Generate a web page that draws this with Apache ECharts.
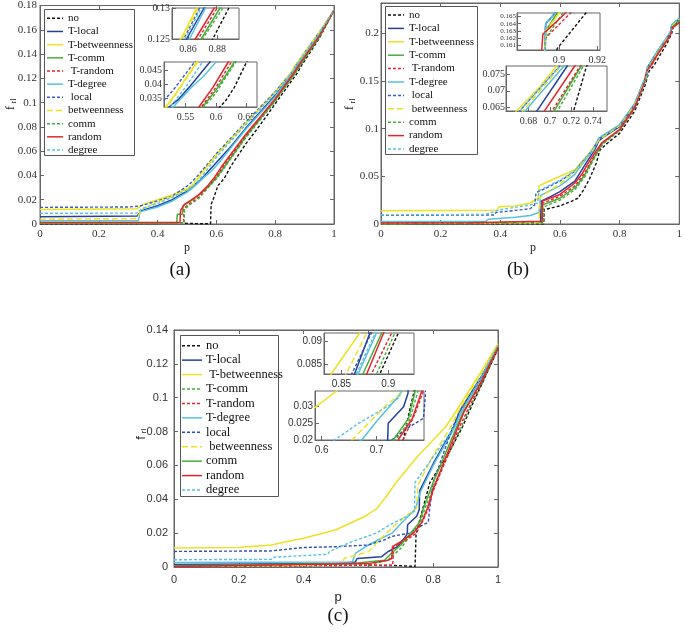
<!DOCTYPE html>
<html><head><meta charset="utf-8">
<script src="https://cdn.jsdelivr.net/npm/echarts@6/dist/echarts.min.js"></script>
<style>html,body{margin:0;padding:0;background:#fff}#c{width:685px;height:638px}</style>
</head><body><div id="c"></div>
<script>
// ---------- series names ----------
const NAMES = ['no','T-local','T-betweenness','T-comm','T-random','T-degree','local','betweenness','comm','random','degree'];
const LEGEND_A = ['no','T-local','T-betweenness','T-comm',' T-random','T-degree',' local','betweenness','comm','random','degree'];
const LEGEND_B = ['no','T-local','T-betweenness','T-comm',' T-random','T-degree',' local',' betweenness','comm','random','degree'];
const LEGEND_C = ['no','T-local',' T-betweenness','T-comm','T-random','T-degree','local',' betweenness','comm','random','degree'];

// ---------- panel (a) data [p, f_rl] ----------
const A_no = [[0,0],[0.2,0],[0.4,0.0004],[0.45,0.001],[0.5,0.0005],[0.55,0.0002],[0.58,0.0002],[0.582,0.016],[0.59,0.021],[0.6,0.028],[0.606,0.032],[0.615,0.034],[0.63,0.039],[0.65,0.048],[0.7,0.066],[0.75,0.082],[0.8,0.099],[0.85,0.116],[0.877,0.125],[0.888,0.13],[0.95,0.153],[1,0.176]];
const A_tlocal = [[0,0.006],[0.33,0.0065],[0.345,0.011],[0.4,0.015],[0.45,0.02],[0.5,0.027],[0.523,0.032],[0.54,0.035],[0.56,0.04],[0.575,0.044],[0.59,0.048],[0.65,0.064],[0.7,0.079],[0.8,0.106],[0.859,0.125],[0.871,0.13],[0.95,0.157],[1,0.176]];
const A_tbetw = [[0,0.012],[0.33,0.0125],[0.35,0.016],[0.4,0.02],[0.45,0.024],[0.5,0.029],[0.518,0.032],[0.535,0.037],[0.55,0.042],[0.569,0.048],[0.6,0.057],[0.7,0.083],[0.8,0.109],[0.855,0.125],[0.866,0.13],[0.95,0.158],[1,0.176]];
const A_tcomm = [[0,0.0008],[0.465,0.0008],[0.467,0.008],[0.484,0.008],[0.487,0.015],[0.5,0.017],[0.53,0.022],[0.555,0.027],[0.578,0.032],[0.6,0.038],[0.63,0.048],[0.7,0.072],[0.8,0.102],[0.869,0.125],[0.882,0.13],[0.95,0.154],[1,0.176]];
const A_trandom = [[0,0.0005],[0.488,0.0005],[0.49,0.013],[0.51,0.017],[0.54,0.022],[0.576,0.032],[0.6,0.039],[0.625,0.048],[0.7,0.073],[0.8,0.103],[0.867,0.125],[0.88,0.13],[0.95,0.155],[1,0.176]];
const A_tdegree = [[0,0.0027],[0.335,0.0027],[0.34,0.01],[0.4,0.014],[0.45,0.019],[0.5,0.026],[0.53,0.032],[0.56,0.039],[0.58,0.043],[0.6,0.048],[0.65,0.063],[0.7,0.078],[0.8,0.105],[0.861,0.125],[0.872,0.13],[0.95,0.157],[1,0.176]];
const A_local = [[0,0.0137],[0.3,0.014],[0.34,0.0148],[0.4,0.019],[0.45,0.023],[0.505,0.032],[0.53,0.038],[0.565,0.048],[0.6,0.058],[0.7,0.084],[0.8,0.109],[0.857,0.125],[0.868,0.13],[0.95,0.158],[1,0.176]];
const A_betw = [[0,0.004],[0.33,0.0045],[0.345,0.012],[0.4,0.018],[0.45,0.023],[0.5,0.028],[0.52,0.032],[0.545,0.04],[0.57,0.048],[0.6,0.057],[0.7,0.083],[0.8,0.108],[0.856,0.125],[0.867,0.13],[0.95,0.158],[1,0.176]];
const A_comm = [[0,0.0003],[0.49,0.0003],[0.492,0.012],[0.51,0.016],[0.54,0.021],[0.58,0.032],[0.6,0.037],[0.632,0.048],[0.7,0.071],[0.8,0.101],[0.87,0.125],[0.884,0.13],[0.95,0.154],[1,0.176]];
const A_random = [[0,0.0012],[0.476,0.0012],[0.478,0.011],[0.49,0.016],[0.51,0.019],[0.54,0.024],[0.572,0.032],[0.595,0.039],[0.62,0.048],[0.7,0.074],[0.8,0.103],[0.865,0.125],[0.878,0.13],[0.95,0.155],[1,0.176]];
const A_degree = [[0,0.0088],[0.33,0.009],[0.345,0.0125],[0.4,0.017],[0.45,0.022],[0.5,0.028],[0.525,0.032],[0.55,0.039],[0.578,0.048],[0.6,0.055],[0.7,0.082],[0.8,0.108],[0.858,0.125],[0.869,0.13],[0.95,0.157],[1,0.176]];

// ---------- panel (b) data ----------
const B_no = [[0,0],[0.3,0],[0.546,0],[0.547,0.015],[0.6,0.019],[0.64,0.024],[0.66,0.027],[0.68,0.036],[0.7,0.048],[0.722,0.064],[0.734,0.0775],[0.76,0.085],[0.8,0.095],[0.85,0.118],[0.885,0.145],[0.899,0.1605],[0.914,0.1655],[0.96,0.19],[0.975,0.2],[0.98,0.207],[1,0.212]];
const B_tlocal = [[0,0.001],[0.4,0.0015],[0.535,0.002],[0.537,0.024],[0.57,0.029],[0.6,0.034],[0.65,0.045],[0.688,0.064],[0.716,0.0775],[0.73,0.087],[0.75,0.092],[0.8,0.102],[0.85,0.125],[0.88,0.148],[0.892,0.156],[0.893,0.164],[0.898,0.1655],[0.93,0.182],[0.97,0.2],[0.975,0.208],[1,0.215]];
const B_tbetw = [[0,0.014],[0.39,0.0145],[0.395,0.018],[0.45,0.019],[0.5,0.022],[0.527,0.027],[0.53,0.04],[0.55,0.043],[0.6,0.05],[0.65,0.057],[0.669,0.064],[0.69,0.071],[0.706,0.0775],[0.73,0.089],[0.8,0.104],[0.85,0.126],[0.88,0.149],[0.892,0.156],[0.893,0.163],[0.9,0.1655],[0.93,0.182],[0.97,0.2],[0.975,0.208],[1,0.215]];
const B_tcomm = [[0,0.0003],[0.3,0.0005],[0.54,0.002],[0.542,0.02],[0.6,0.027],[0.65,0.038],[0.68,0.05],[0.704,0.064],[0.729,0.0775],[0.74,0.084],[0.8,0.099],[0.85,0.122],[0.88,0.146],[0.892,0.155],[0.893,0.163],[0.899,0.1655],[0.93,0.181],[0.97,0.199],[0.975,0.207],[1,0.214]];
const B_trandom = [[0,0.0005],[0.54,0.001],[0.542,0.022],[0.6,0.029],[0.65,0.04],[0.68,0.052],[0.702,0.064],[0.728,0.0775],[0.74,0.084],[0.8,0.098],[0.85,0.121],[0.88,0.145],[0.892,0.155],[0.893,0.162],[0.906,0.1655],[0.93,0.179],[0.97,0.198],[0.975,0.206],[1,0.212]];
const B_tdegree = [[0,0.0025],[0.35,0.0025],[0.36,0.005],[0.45,0.007],[0.5,0.009],[0.53,0.012],[0.535,0.03],[0.6,0.04],[0.65,0.052],[0.677,0.064],[0.713,0.0775],[0.73,0.09],[0.8,0.104],[0.85,0.126],[0.88,0.149],[0.892,0.156],[0.893,0.164],[0.898,0.1655],[0.93,0.183],[0.97,0.201],[0.975,0.209],[1,0.216]];
const B_local = [[0,0.009],[0.38,0.0095],[0.385,0.012],[0.5,0.016],[0.515,0.02],[0.52,0.033],[0.55,0.037],[0.6,0.045],[0.65,0.055],[0.672,0.064],[0.709,0.0775],[0.73,0.089],[0.8,0.103],[0.85,0.125],[0.88,0.148],[0.892,0.156],[0.893,0.164],[0.898,0.1655],[0.93,0.182],[0.97,0.2],[0.975,0.208],[1,0.215]];
const B_betw = [[0,0.0005],[0.4,0.001],[0.53,0.002],[0.533,0.028],[0.6,0.042],[0.65,0.055],[0.675,0.064],[0.71,0.0775],[0.73,0.088],[0.8,0.103],[0.85,0.125],[0.88,0.148],[0.892,0.156],[0.893,0.163],[0.9,0.1655],[0.93,0.182],[0.97,0.2],[0.975,0.208],[1,0.215]];
const B_comm = [[0,0],[0.545,0.0005],[0.546,0.018],[0.6,0.025],[0.65,0.036],[0.685,0.05],[0.707,0.064],[0.731,0.0775],[0.745,0.084],[0.8,0.098],[0.85,0.121],[0.88,0.145],[0.892,0.154],[0.893,0.162],[0.902,0.1655],[0.93,0.18],[0.97,0.198],[0.975,0.206],[1,0.213]];
const B_random = [[0,0.001],[0.3,0.0012],[0.54,0.003],[0.541,0.024],[0.6,0.031],[0.65,0.043],[0.675,0.053],[0.695,0.064],[0.723,0.0775],[0.74,0.085],[0.8,0.099],[0.85,0.122],[0.88,0.146],[0.891,0.1605],[0.8915,0.1625],[0.9034,0.1655],[0.93,0.179],[0.97,0.198],[0.975,0.205],[1,0.211]];
const B_degree = [[0,0.0095],[0.35,0.01],[0.4,0.015],[0.5,0.02],[0.525,0.022],[0.53,0.035],[0.6,0.046],[0.65,0.056],[0.672,0.064],[0.709,0.0775],[0.73,0.09],[0.8,0.104],[0.85,0.126],[0.88,0.149],[0.892,0.156],[0.893,0.164],[0.898,0.1655],[0.93,0.183],[0.97,0.201],[0.975,0.209],[1,0.216]];

// ---------- panel (c) data ----------
const C_no = [[0,0.0005],[0.3,0.0008],[0.5,0.001],[0.6,0.001],[0.7,0.0008],[0.744,0.0003],[0.747,0.019],[0.76,0.029],[0.79,0.05],[0.85,0.068],[0.891,0.083],[0.9107,0.0917],[0.95,0.108],[1,0.129]];
const C_tlocal = [[0,0.0015],[0.5,0.002],[0.56,0.003],[0.565,0.005],[0.64,0.006],[0.66,0.009],[0.69,0.012],[0.715,0.018],[0.72,0.02],[0.721,0.025],[0.749,0.03],[0.757,0.034],[0.758,0.045],[0.8,0.061],[0.864,0.083],[0.8804,0.0917],[0.95,0.113],[1,0.13]];
const C_tbetw = [[0,0.0112],[0.2,0.0115],[0.3,0.013],[0.35,0.015],[0.4,0.017],[0.5,0.022],[0.59,0.03],[0.627,0.0347],[0.66,0.043],[0.69,0.051],[0.75,0.065],[0.8,0.075],[0.839,0.083],[0.8696,0.0917],[0.95,0.116],[1,0.132]];
const C_tcomm = [[0,0.0005],[0.6,0.001],[0.66,0.004],[0.7,0.011],[0.735,0.02],[0.76,0.026],[0.775,0.0347],[0.8,0.047],[0.8875,0.083],[0.907,0.0917],[0.95,0.108],[1,0.129]];
const C_trandom = [[0,0.0004],[0.6,0.001],[0.675,0.001],[0.678,0.012],[0.71,0.015],[0.748,0.02],[0.77,0.028],[0.785,0.0347],[0.8,0.045],[0.882,0.083],[0.9036,0.0917],[0.95,0.109],[1,0.129]];
const C_tdegree = [[0,0.0027],[0.55,0.003],[0.56,0.008],[0.6,0.013],[0.64,0.017],[0.673,0.02],[0.7,0.0256],[0.737,0.0326],[0.746,0.0347],[0.76,0.044],[0.8,0.06],[0.8678,0.083],[0.8875,0.0917],[0.95,0.112],[1,0.131]];
const C_local = [[0,0.0092],[0.3,0.0095],[0.35,0.0105],[0.4,0.0115],[0.5,0.012],[0.6,0.013],[0.65,0.016],[0.67,0.018],[0.727,0.02],[0.76,0.024],[0.785,0.0265],[0.79,0.036],[0.8,0.05],[0.861,0.083],[0.882,0.0917],[0.95,0.112],[1,0.13]];
const C_betw = [[0,0.0005],[0.4,0.001],[0.52,0.002],[0.525,0.005],[0.6,0.009],[0.625,0.014],[0.655,0.02],[0.688,0.0255],[0.718,0.0305],[0.749,0.0347],[0.752,0.048],[0.8,0.066],[0.855,0.083],[0.877,0.0917],[0.95,0.115],[1,0.131]];
const C_comm = [[0,0.0008],[0.55,0.002],[0.65,0.004],[0.67,0.008],[0.7,0.013],[0.73,0.02],[0.758,0.0265],[0.77,0.0347],[0.8,0.05],[0.873,0.083],[0.893,0.0917],[0.95,0.11],[1,0.13]];
const C_random = [[0,0.0003],[0.6,0.002],[0.66,0.004],[0.672,0.005],[0.674,0.012],[0.7,0.015],[0.739,0.02],[0.765,0.0265],[0.782,0.0347],[0.8,0.046],[0.877,0.083],[0.895,0.0917],[0.95,0.11],[1,0.13]];
const C_degree = [[0,0.0043],[0.3,0.0045],[0.31,0.0058],[0.475,0.0075],[0.48,0.0092],[0.55,0.015],[0.624,0.02],[0.667,0.025],[0.724,0.0305],[0.742,0.033],[0.744,0.05],[0.8,0.065],[0.866,0.083],[0.886,0.0917],[0.95,0.113],[1,0.131]];

// ---------- tick values ----------
const X_MAIN_TICKS = [0,0.2,0.4,0.6,0.8,1];
const A_Y_TICKS = [0,0.02,0.04,0.06,0.08,0.1,0.12,0.14,0.16,0.18];
const B_Y_TICKS = [0,0.05,0.1,0.15,0.2];
const C_Y_TICKS = [0,0.02,0.04,0.06,0.08,0.1,0.12,0.14];
const A_I1_X = [0.86,0.88], A_I1_Y = [0.125,0.13];
const A_I2_X = [0.55,0.6,0.65], A_I2_Y = [0.035,0.04,0.045];
const B_I1_X = [0.9,0.92], B_I1_Y = [0.161,0.162,0.163,0.164,0.165];
const B_I2_X = [0.68,0.7,0.72,0.74], B_I2_Y = [0.065,0.07,0.075];
const C_I1_X = [0.85,0.9], C_I1_Y = [0.085,0.09];
const C_I2_X = [0.6,0.7], C_I2_Y = [0.02,0.025,0.03];

// ---------- styles ----------
const SERIF = "Liberation Serif, Times New Roman, serif";
const SANS = "Arial, Liberation Sans, Helvetica, sans-serif";
const COL = {k:'#111111', b:'#23409e', y:'#eee21e', g:'#46ad3b', r:'#e3252b', c:'#57c1e4'};
const DASH = [3,2], LDASH = [6,3];
const STYLE_AB = {
  'no':{c:COL.k,d:DASH}, 'T-local':{c:COL.b,d:null}, 'T-betweenness':{c:COL.y,d:null}, 'T-comm':{c:COL.g,d:null},
  'T-random':{c:COL.r,d:DASH}, 'T-degree':{c:COL.c,d:null}, 'local':{c:'#3a5cc0',d:DASH}, 'betweenness':{c:COL.y,d:LDASH},
  'comm':{c:COL.g,d:DASH}, 'random':{c:COL.r,d:null}, 'degree':{c:COL.c,d:DASH}
};
const STYLE_C = {
  'no':{c:COL.k,d:DASH}, 'T-local':{c:COL.b,d:null}, 'T-betweenness':{c:COL.y,d:null}, 'T-comm':{c:COL.g,d:DASH},
  'T-random':{c:COL.r,d:DASH}, 'T-degree':{c:COL.c,d:null}, 'local':{c:'#2f4fb0',d:DASH}, 'betweenness':{c:COL.y,d:LDASH},
  'comm':{c:COL.g,d:null}, 'random':{c:COL.r,d:null}, 'degree':{c:COL.c,d:DASH}
};

const PANELS = [
  { data:[A_no,A_tlocal,A_tbetw,A_tcomm,A_trandom,A_tdegree,A_local,A_betw,A_comm,A_random,A_degree], style:STYLE_AB, font:SERIF, fs:11,
    main:{l:40,t:5,w:294,h:219,xr:[0,1],yr:[0,0.18],xt:X_MAIN_TICKS,yt:A_Y_TICKS,xm:5,ym:3},
    insets:[{l:172,t:8,w:67,h:31,xr:[0.849,0.895],yr:[0.125,0.13],xt:A_I1_X,yt:A_I1_Y,xm:5,ym:2,fs:10},
            {l:164,t:62,w:93,h:45,xr:[0.515,0.667],yr:[0.032,0.048],xt:A_I2_X,yt:A_I2_Y,xm:5,ym:2,fs:10}],
    legend:{x:44,y:9,w:90,h:146,lx0:47,lx1:63,tx:68,fy:18.3,step:13.17,fs:11,labels:LEGEND_A,font:SERIF},
    ylab:{x:11,y:108,font:SERIF}, xlab:{x:187,y:248,font:SERIF,fs:12}, cap:{t:'(a)',x:180,y:270} },
  { data:[B_no,B_tlocal,B_tbetw,B_tcomm,B_trandom,B_tdegree,B_local,B_betw,B_comm,B_random,B_degree], style:STYLE_AB, font:SERIF, fs:11,
    main:{l:381,t:3,w:299,h:221,xr:[0,1],yr:[0,0.2317],xt:X_MAIN_TICKS,yt:B_Y_TICKS,xm:5,ym:2},
    insets:[{l:517,t:13,w:83,h:37,xr:[0.878,0.9214],yr:[0.1603,0.1655],xt:B_I1_X,yt:B_I1_Y,xm:5,ym:1,fs:10,yfs:7},
            {l:506,t:66,w:101,h:45,xr:[0.659,0.753],yr:[0.0639,0.0775],xt:B_I2_X,yt:B_I2_Y,xm:5,ym:1,fs:10}],
    legend:{x:385,y:6,w:92,h:148,lx0:388,lx1:404,tx:409,fy:15,step:13.4,fs:11,labels:LEGEND_B,font:SERIF},
    ylab:{x:350,y:108,font:SERIF}, xlab:{x:533,y:248,font:SERIF,fs:12}, cap:{t:'(b)',x:518,y:270} },
  { data:[C_no,C_tlocal,C_tbetw,C_tcomm,C_trandom,C_tdegree,C_local,C_betw,C_comm,C_random,C_degree], style:STYLE_C, font:SANS, fs:11,
    main:{l:174,t:330,w:324,h:237,xr:[0,1],yr:[0,0.14],xt:X_MAIN_TICKS,yt:C_Y_TICKS,xm:7,ym:6},
    insets:[{l:324,t:333,w:90,h:41,xr:[0.8314,0.9275],yr:[0.083,0.0917],xt:C_I1_X,yt:C_I1_Y,xm:5,ym:2,fs:10},
            {l:315,t:391,w:109,h:49,xr:[0.588,0.786],yr:[0.02,0.0347],xt:C_I2_X,yt:C_I2_Y,xm:5,ym:2,fs:10}],
    legend:{x:180,y:335,w:98,h:161,lx0:182,lx1:202,tx:206,fy:345.7,step:14.43,fs:12.5,labels:LEGEND_C,font:SERIF},
    ylab:{x:141,y:438,font:SANS}, xlab:{x:338,y:597,font:SANS,fs:13}, cap:{t:'(c)',x:338,y:616} }
];

const grids = [], xAxes = [], yAxes = [], series = [], graphics = [];

function addGrid(g, font, fs, yfs, mirror) {
  const gi = grids.length;
  grids.push({left:g.l, top:g.t, width:g.w, height:g.h, show:true, backgroundColor:'#fff', borderColor:'#666', borderWidth:1});
  const common = {type:'value', gridIndex:gi, splitLine:{show:false}, axisLine:{show:true, onZero:false, lineStyle:{color:'#666'}}};
  const xi = xAxes.length;
  xAxes.push(Object.assign({}, common, {min:g.xr[0], max:g.xr[1], position:'bottom',
    axisTick:{show:true, inside:true, length:4, customValues:g.xt, lineStyle:{color:'#666'}},
    axisLabel:{customValues:g.xt, fontFamily:font, fontSize:fs, color:'#333', margin:g.xm, hideOverlap:false, showMinLabel:true, showMaxLabel:true}}));
  const yi = yAxes.length;
  yAxes.push(Object.assign({}, common, {min:g.yr[0], max:g.yr[1], position:'left',
    axisTick:{show:true, inside:true, length:4, customValues:g.yt, lineStyle:{color:'#666'}},
    axisLabel:{customValues:g.yt, fontFamily:font, fontSize:yfs, color:'#333', margin:g.ym, hideOverlap:false, showMinLabel:true, showMaxLabel:true}}));
  if (mirror) {
    xAxes.push(Object.assign({}, common, {min:g.xr[0], max:g.xr[1], position:'top',
      axisTick:{show:true, inside:true, length:4, customValues:g.xt, lineStyle:{color:'#666'}}, axisLabel:{show:false}}));
    yAxes.push(Object.assign({}, common, {min:g.yr[0], max:g.yr[1], position:'right',
      axisTick:{show:true, inside:true, length:4, customValues:g.yt, lineStyle:{color:'#666'}}, axisLabel:{show:false}}));
  }
  return [xi, yi];
}

function addSeries(panel, xi, yi, z) {
  NAMES.forEach((name, k) => {
    const st = panel.style[name];
    series.push({
      type:'line', name:name, xAxisIndex:xi, yAxisIndex:yi, data:panel.data[k],
      symbol:'none', showSymbol:false, clip:true, silent:true, animation:false, z:z,
      lineStyle:{color:st.c, width: st.d ? 1.4 : 1.5, type: st.d ? st.d : 'solid'}
    });
  });
}

PANELS.forEach(p => {
  const [mx, my] = addGrid(p.main, p.font, p.fs, p.fs, true);
  addSeries(p, mx, my, 2);
  p.insets.forEach(ins => {
    const [ix, iy] = addGrid(ins, p.font, ins.fs, ins.yfs || ins.fs, false);
    addSeries(p, ix, iy, 3);
  });
  const L = p.legend;
  graphics.push({type:'rect', z:20, shape:{x:L.x+0.5, y:L.y+0.5, width:L.w, height:L.h}, style:{fill:'#fff', stroke:'#555', lineWidth:1}});
  NAMES.forEach((name, k) => {
    const st = p.style[name];
    const yy = L.fy + k * L.step;
    graphics.push({type:'line', z:21, shape:{x1:L.lx0, y1:yy, x2:L.lx1, y2:yy},
      style:{stroke:st.c, lineWidth:1.5, lineDash: st.d ? st.d : null}});
    graphics.push({type:'text', z:21, x:L.tx, y:yy, style:{text:L.labels[k], fontFamily:L.font, fontSize:L.fs, fill:'#111', verticalAlign:'middle', align:'left'}});
  });
  graphics.push({type:'text', z:21, x:p.ylab.x, y:p.ylab.y, rotation:Math.PI/2,
    style:{text:'f', fontFamily:p.ylab.font, fontSize:13, fill:'#222', align:'center', verticalAlign:'middle'}});
  graphics.push({type:'text', z:21, x:p.ylab.x + 3, y:p.ylab.y - 7, rotation:Math.PI/2,
    style:{text:'rl', fontFamily:p.ylab.font, fontSize:8, fill:'#222', align:'center', verticalAlign:'middle'}});
  graphics.push({type:'text', z:21, x:p.xlab.x, y:p.xlab.y,
    style:{text:'p', fontFamily:p.xlab.font, fontSize:p.xlab.fs, fill:'#222', align:'center', verticalAlign:'middle'}});
  graphics.push({type:'text', z:21, x:p.cap.x, y:p.cap.y,
    style:{text:p.cap.t, fontFamily:SERIF, fontSize:19, fill:'#111', align:'center', verticalAlign:'middle'}});
});

const chart = echarts.init(document.getElementById('c'), null, {renderer:'canvas'});
chart.setOption({
  animation:false,
  backgroundColor:'#fff',
  grid:grids, xAxis:xAxes, yAxis:yAxes, series:series,
  graphic:{elements:graphics}
});
</script></body></html>
